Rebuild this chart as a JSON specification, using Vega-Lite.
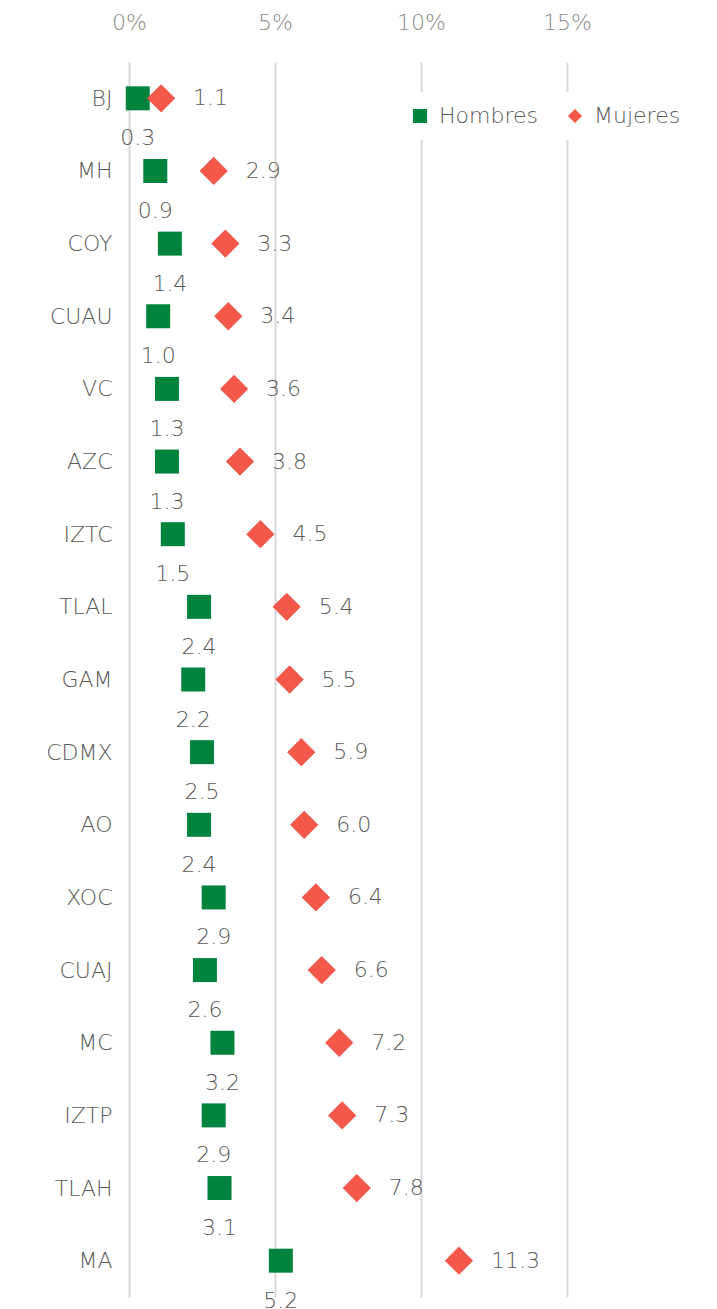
{
  "$schema": "https://vega.github.io/schema/vega-lite/v6.json",
  "width": 584,
  "height": 1235,
  "autosize": {"type": "none"},
  "padding": {"left": 129, "top": 62, "right": 4, "bottom": 12},
  "background": "white",
  "config": {
    "view": {"stroke": null},
    "font": "DejaVu Sans",
    "axis": {"labelFont": "DejaVu Sans", "labelColor": "#595959"},
    "legend": {"labelFont": "DejaVu Sans"}
  },
  "data": {
    "values": [
      {"dist": "BJ", "sexo": "Hombres", "valor": 0.3},
      {"dist": "BJ", "sexo": "Mujeres", "valor": 1.1},
      {"dist": "MH", "sexo": "Hombres", "valor": 0.9},
      {"dist": "MH", "sexo": "Mujeres", "valor": 2.9},
      {"dist": "COY", "sexo": "Hombres", "valor": 1.4},
      {"dist": "COY", "sexo": "Mujeres", "valor": 3.3},
      {"dist": "CUAU", "sexo": "Hombres", "valor": 1.0},
      {"dist": "CUAU", "sexo": "Mujeres", "valor": 3.4},
      {"dist": "VC", "sexo": "Hombres", "valor": 1.3},
      {"dist": "VC", "sexo": "Mujeres", "valor": 3.6},
      {"dist": "AZC", "sexo": "Hombres", "valor": 1.3},
      {"dist": "AZC", "sexo": "Mujeres", "valor": 3.8},
      {"dist": "IZTC", "sexo": "Hombres", "valor": 1.5},
      {"dist": "IZTC", "sexo": "Mujeres", "valor": 4.5},
      {"dist": "TLAL", "sexo": "Hombres", "valor": 2.4},
      {"dist": "TLAL", "sexo": "Mujeres", "valor": 5.4},
      {"dist": "GAM", "sexo": "Hombres", "valor": 2.2},
      {"dist": "GAM", "sexo": "Mujeres", "valor": 5.5},
      {"dist": "CDMX", "sexo": "Hombres", "valor": 2.5},
      {"dist": "CDMX", "sexo": "Mujeres", "valor": 5.9},
      {"dist": "AO", "sexo": "Hombres", "valor": 2.4},
      {"dist": "AO", "sexo": "Mujeres", "valor": 6.0},
      {"dist": "XOC", "sexo": "Hombres", "valor": 2.9},
      {"dist": "XOC", "sexo": "Mujeres", "valor": 6.4},
      {"dist": "CUAJ", "sexo": "Hombres", "valor": 2.6},
      {"dist": "CUAJ", "sexo": "Mujeres", "valor": 6.6},
      {"dist": "MC", "sexo": "Hombres", "valor": 3.2},
      {"dist": "MC", "sexo": "Mujeres", "valor": 7.2},
      {"dist": "IZTP", "sexo": "Hombres", "valor": 2.9},
      {"dist": "IZTP", "sexo": "Mujeres", "valor": 7.3},
      {"dist": "TLAH", "sexo": "Hombres", "valor": 3.1},
      {"dist": "TLAH", "sexo": "Mujeres", "valor": 7.8},
      {"dist": "MA", "sexo": "Hombres", "valor": 5.2},
      {"dist": "MA", "sexo": "Mujeres", "valor": 11.3}
    ]
  },
  "encoding": {
    "y": {
      "field": "dist",
      "type": "nominal",
      "sort": null,
      "title": null,
      "axis": {
        "domain": false,
        "ticks": false,
        "labelFontSize": 22,
        "labelFontWeight": 300,
        "labelPadding": 17,
        "labelColor": "#595959"
      }
    },
    "x": {
      "field": "valor",
      "type": "quantitative",
      "title": null,
      "scale": {"domain": [0, 20], "nice": false},
      "axis": {
        "orient": "top",
        "values": [0, 5, 10, 15],
        "labelExpr": "datum.value + '%'",
        "labelFlush": false,
        "domain": false,
        "ticks": false,
        "grid": true,
        "gridColor": "#d9d9d9",
        "gridWidth": 2,
        "labelFontSize": 22,
        "labelFontWeight": 300,
        "labelColor": "#8c8c8c",
        "labelPadding": 28
      }
    },
    "color": {
      "field": "sexo",
      "type": "nominal",
      "title": null,
      "scale": {"domain": ["Hombres", "Mujeres"], "range": ["#00843d", "#f4584a"]},
      "legend": {
        "orient": "none",
        "legendX": 267,
        "legendY": 30,
        "direction": "horizontal",
        "fillColor": "white",
        "padding": 13,
        "labelFontSize": 22,
        "labelFontWeight": 300,
        "labelColor": "#595959",
        "labelOffset": 8,
        "columnPadding": 26,
        "symbolSize": 200
      }
    },
    "shape": {
      "field": "sexo",
      "type": "nominal",
      "title": null,
      "scale": {"domain": ["Hombres", "Mujeres"], "range": ["square", "diamond"]}
    }
  },
  "layer": [
    {
      "transform": [{"filter": "datum.sexo === 'Hombres'"}],
      "mark": {"type": "point", "filled": true, "opacity": 1, "size": 576}
    },
    {
      "transform": [{"filter": "datum.sexo === 'Mujeres'"}],
      "mark": {"type": "point", "filled": true, "opacity": 1, "size": 800}
    },
    {
      "transform": [{"filter": "datum.sexo === 'Hombres'"}],
      "mark": {"type": "text", "dy": 40, "align": "center", "fontSize": 22, "fontWeight": 300, "color": "#595959"},
      "encoding": {
        "text": {"field": "valor", "type": "quantitative", "format": ".1f"},
        "color": {"value": "#595959"},
        "shape": null
      }
    },
    {
      "transform": [{"filter": "datum.sexo === 'Mujeres'"}],
      "mark": {"type": "text", "dx": 32, "align": "left", "fontSize": 22, "fontWeight": 300, "color": "#595959"},
      "encoding": {
        "text": {"field": "valor", "type": "quantitative", "format": ".1f"},
        "color": {"value": "#595959"},
        "shape": null
      }
    }
  ]
}
